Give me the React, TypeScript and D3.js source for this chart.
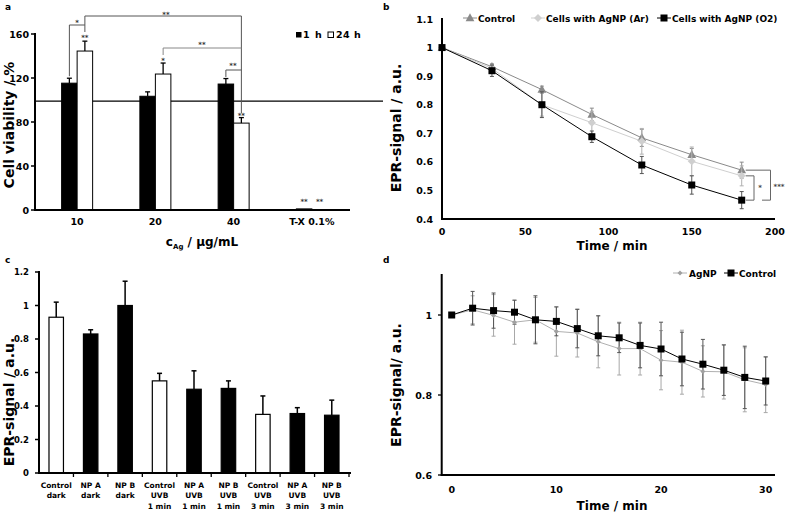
import React from "react";
import * as d3 from "d3";

const FONT = "'DejaVu Sans', Verdana, sans-serif";

// panel a: cell viability
const conc = ["10", "20", "40", "T-X 0.1%"];
const via1h = [115.3, 103.4, 114.5, 1.0];
const via1hErr = [4.5, 4.0, 5.0, 0];
const via24h = [144.5, 123.6, 79.0, 0.3];
const via24hErr = [9.0, 10.0, 5.0, 0];
const viaTicks = [0, 40, 80, 120, 160];
const viaRef = 99;

// panel b: EPR signal over 3 h
const timeB = [0, 30, 60, 90, 120, 150, 180];
const ctrlB = [1, 0.933, 0.853, 0.766, 0.684, 0.625, 0.571];
const ctrlBErr = [0, 0.01, 0.012, 0.022, 0.03, 0.022, 0.028];
const arB = [1, 0.927, 0.8, 0.737, 0.672, 0.602, 0.551];
const arBErr = [0, 0.012, 0.04, 0.04, 0.045, 0.05, 0.035];
const o2B = [1, 0.919, 0.8, 0.688, 0.589, 0.519, 0.466];
const o2BErr = [0, 0.02, 0.045, 0.02, 0.03, 0.032, 0.03];
const ticksBx = [0, 50, 100, 150, 200];
const ticksBy = [0.4, 0.5, 0.6, 0.7, 0.8, 0.9, 1, 1.1];

// panel c: EPR signal per treatment
const groupsC = [
  ["Control", "dark"], ["NP A", "dark"], ["NP B", "dark"],
  ["Control", "UVB", "1 min"], ["NP A", "UVB", "1 min"], ["NP B", "UVB", "1 min"],
  ["Control", "UVB", "3 min"], ["NP A", "UVB", "3 min"], ["NP B", "UVB", "3 min"],
];
const valC = [0.93, 0.83, 1.0, 0.55, 0.5, 0.505, 0.35, 0.355, 0.345];
const errC = [0.09, 0.025, 0.145, 0.045, 0.11, 0.045, 0.11, 0.035, 0.09];
const isControlC = [true, false, false, true, false, false, true, false, false];
const ticksCy = [0, 0.2, 0.4, 0.6, 0.8, 1, 1.2];

// panel d: EPR signal over 30 min
const timeD = [0, 2, 4, 6, 8, 10, 12, 14, 16, 18, 20, 22, 24, 26, 28, 30];
const ctrlD = [1.0, 1.017, 1.011, 1.007, 0.988, 0.984, 0.966, 0.948, 0.943, 0.924, 0.915, 0.89, 0.877, 0.862, 0.844, 0.835];
const ctrlDErr = [0, 0.042, 0.044, 0.03, 0.06, 0.036, 0.048, 0.05, 0.037, 0.056, 0.067, 0.067, 0.062, 0.063, 0.078, 0.06];
const agD = [1.0, 1.013, 0.999, 0.982, 0.988, 0.959, 0.955, 0.933, 0.916, 0.916, 0.887, 0.882, 0.859, 0.858, 0.838, 0.826];
const agDErr = [0, 0.035, 0.052, 0.055, 0.056, 0.062, 0.06, 0.065, 0.066, 0.066, 0.074, 0.08, 0.064, 0.068, 0.08, 0.07];
const ticksDx = [0, 10, 20, 30];
const ticksDy = [0.6, 0.8, 1];

const fmt = (v: number) => String(+v.toFixed(2));

function Star({ x, y, t, size = 7, fill = "#333" }: any) {
  return (
    <text x={x} y={y + size * 0.6} fontSize={size} fontWeight="bold" textAnchor="middle" fill={fill}>{t}</text>
  );
}

function ErrBar({ x, y0, y1, cap = 4, stroke = "#000", w = 1 }: any) {
  return (
    <g stroke={stroke} strokeWidth={w}>
      <line x1={x} x2={x} y1={y0} y2={y1} />
      <line x1={x - cap / 2} x2={x + cap / 2} y1={y1} y2={y1} />
    </g>
  );
}

function PanelA() {
  const x = d3.scaleBand().domain(conc).range([38, 351]);
  const y = d3.scaleLinear().domain([0, 160]).range([210, 34]);
  const bw = 15.5;
  const c1 = (i: number) => x(conc[i])! + x.bandwidth() / 2 - bw / 2;
  const c24 = (i: number) => x(conc[i])! + x.bandwidth() / 2 + bw / 2;
  return (
    <g>
      <text x={5} y={10} fontSize={9} fontWeight="bold">a</text>
      <line x1={35} x2={383} y1={y(viaRef)} y2={y(viaRef)} stroke="#000" strokeWidth={1.3} />
      {conc.map((c, i) => (
        <g key={c}>
          <rect x={c1(i) - bw / 2} y={y(via1h[i])} width={bw} height={y(0) - y(via1h[i])} fill="#000" stroke="#000" strokeWidth={1} />
          <rect x={c24(i) - bw / 2} y={y(via24h[i])} width={bw} height={y(0) - y(via24h[i])} fill="#fff" stroke="#000" strokeWidth={1} />
          {via1hErr[i] > 0 && <ErrBar x={c1(i)} y0={y(via1h[i])} y1={y(via1h[i] + via1hErr[i])} cap={5} w={1.3} />}
          {via24hErr[i] > 0 && <ErrBar x={c24(i)} y0={y(via24h[i])} y1={y(via24h[i] + via24hErr[i])} cap={5} w={1.3} />}
        </g>
      ))}
      {/* axes */}
      <line x1={35} x2={35} y1={y(160) - 1} y2={y(0)} stroke="#000" strokeWidth={2} />
      <line x1={34} x2={350} y1={y(0)} y2={y(0)} stroke="#000" strokeWidth={2} />
      {viaTicks.map((t) => (
        <g key={t}>
          <line x1={31} x2={35} y1={y(t)} y2={y(t)} stroke="#000" strokeWidth={1.5} />
          <text x={29} y={y(t) + 3.5} fontSize={9.5} fontWeight="bold" textAnchor="end">{t}</text>
        </g>
      ))}
      {conc.map((c) => (
        <text key={c} x={x(c)! + x.bandwidth() / 2} y={225} fontSize={9.5} fontWeight="bold" textAnchor="middle">{c}</text>
      ))}
      <text x={202} y={246} fontSize={12} fontWeight="bold" textAnchor="middle">
        c<tspan fontSize={7} dy={3}>Ag</tspan><tspan dy={-3}> / μg/mL</tspan>
      </text>
      <text transform="translate(13.5,125) rotate(-90)" fontSize={14} fontWeight="bold" textAnchor="middle">Cell viability / %</text>
      {/* legend */}
      <rect x={296} y={32} width={5.5} height={5.5} fill="#000" />
      <text x={303} y={38} fontSize={9.5} fontWeight="bold" letterSpacing={1}>1 h</text>
      <rect x={328} y={32} width={5.5} height={5.5} fill="#fff" stroke="#000" strokeWidth={1} />
      <text x={336} y={38} fontSize={9.5} fontWeight="bold" letterSpacing={0.5}>24 h</text>
      {/* significance */}
      <path d={`M${c1(0)},${y(via1h[0] + via1hErr[0]) - 2} V25 H${c24(0)}`} fill="none" stroke="#555" strokeWidth={1} />
      <path d={`M${c24(0)},32 V16 H${c24(2)} V113`} fill="none" stroke="#555" strokeWidth={1} />
      <path d={`M${c24(1)},55 V48 H${c24(2)}`} fill="none" stroke="#888" strokeWidth={1} />
      <path d={`M${c1(2)},77 V70 H${c24(2)}`} fill="none" stroke="#555" strokeWidth={1} />
      <Star x={(c1(0) + c24(0)) / 2} y={21} t="*" />
      <Star x={166} y={13} t="**" />
      <Star x={202} y={43} t="**" />
      <Star x={233} y={64} t="**" />
      <Star x={c24(0)} y={36} t="**" />
      <Star x={c24(1)} y={59} t="*" />
      <Star x={c24(2)} y={114} t="**" />
      <Star x={c1(3)} y={200} t="**" />
      <Star x={c24(3)} y={200} t="**" />
    </g>
  );
}

function tri(x: number, y: number, s: number) {
  return `M${x},${y - s * 0.6} L${x + s * 0.55},${y + s * 0.4} L${x - s * 0.55},${y + s * 0.4} Z`;
}
function dia(x: number, y: number, s: number) {
  return `M${x},${y - s / 2} L${x + s / 2},${y} L${x},${y + s / 2} L${x - s / 2},${y} Z`;
}

function PanelB() {
  const x = d3.scaleLinear().domain([0, 200]).range([442, 775]);
  const y = d3.scaleLinear().domain([0.4, 1.1]).range([219, 19]);
  const series = [
    { v: ctrlB, e: ctrlBErr, color: "#8a8a8a", err: "#8a8a8a", mark: "tri" },
    { v: arB, e: arBErr, color: "#cfcfcf", err: "#b0b0b0", mark: "dia" },
    { v: o2B, e: o2BErr, color: "#000", err: "#555", mark: "sq" },
  ];
  const line = (vals: number[]) => d3.line<number>().x((_, i) => x(timeB[i])).y((d) => y(d))(vals)!;
  const marker = (m: string, px: number, py: number, color: string) =>
    m === "tri" ? <path d={tri(px, py, 8)} fill={color} /> :
    m === "dia" ? <path d={dia(px, py, 8)} fill={color} /> :
    <rect x={px - 3.5} y={py - 3.5} width={7} height={7} fill={color} />;
  return (
    <g>
      <text x={383} y={10} fontSize={9} fontWeight="bold">b</text>
      {series.map((s, k) => (
        <g key={k}>
          {s.v.map((v, i) => s.e[i] > 0 && (
            <g key={i} stroke={s.err} strokeWidth={1}>
              <line x1={x(timeB[i])} x2={x(timeB[i])} y1={y(v - s.e[i])} y2={y(v + s.e[i])} />
              <line x1={x(timeB[i]) - 2} x2={x(timeB[i]) + 2} y1={y(v - s.e[i])} y2={y(v - s.e[i])} />
              <line x1={x(timeB[i]) - 2} x2={x(timeB[i]) + 2} y1={y(v + s.e[i])} y2={y(v + s.e[i])} />
            </g>
          ))}
          <path d={line(s.v)} fill="none" stroke={s.color} strokeWidth={1} />
          {s.v.map((v, i) => <g key={"m" + i}>{marker(s.mark, x(timeB[i]), y(v), s.color)}</g>)}
        </g>
      ))}
      <line x1={442} x2={442} y1={18} y2={220} stroke="#000" strokeWidth={2} />
      <line x1={441} x2={775} y1={219} y2={219} stroke="#000" strokeWidth={2} />
      {ticksBy.map((t) => (
        <text key={t} x={433} y={y(t) + 3.5} fontSize={9.5} fontWeight="bold" textAnchor="end">{fmt(t)}</text>
      ))}
      {ticksBx.map((t) => (
        <text key={t} x={x(t)} y={235} fontSize={9.5} fontWeight="bold" textAnchor="middle">{t}</text>
      ))}
      <text x={612} y={250} fontSize={12} fontWeight="bold" textAnchor="middle">Time / min</text>
      <text transform="translate(401,128) rotate(-90)" fontSize={14} fontWeight="bold" textAnchor="middle">EPR-signal / a.u.</text>
      {/* legend */}
      <line x1={463} x2={477} y1={18} y2={18} stroke="#8a8a8a" />
      {marker("tri", 470, 18, "#8a8a8a")}
      <text x={478} y={21.5} fontSize={9} fontWeight="bold">Control</text>
      <line x1={531} x2={545} y1={18} y2={18} stroke="#cfcfcf" />
      {marker("dia", 538, 18, "#cfcfcf")}
      <text x={546} y={21.5} fontSize={9} fontWeight="bold">Cells with AgNP (Ar)</text>
      <line x1={657} x2={671} y1={18} y2={18} stroke="#000" />
      {marker("sq", 664, 18, "#000")}
      <text x={672} y={21.5} fontSize={9} fontWeight="bold">Cells with AgNP (O2)</text>
      {/* significance */}
      <path d={`M${x(180) + 4},${y(arB[6])} H754 V${y(o2B[6])} H${x(180) + 4}`} fill="none" stroke="#666" strokeWidth={1} />
      <path d={`M${x(180) + 4},${y(ctrlB[6])} H770.5 V${y(o2B[6])} H762`} fill="none" stroke="#666" strokeWidth={1} />
      <Star x={760} y={186} t="*" fill="#444" />
      <Star x={779} y={185} t="***" fill="#444" />
    </g>
  );
}

function PanelC() {
  const x = d3.scaleBand().domain(groupsC.map((g) => g.join(" "))).range([39, 349]).paddingInner(0.58).paddingOuter(0.29);
  const y = d3.scaleLinear().domain([0, 1.2]).range([473, 272]);
  const step = x.step();
  return (
    <g>
      <text x={5} y={263} fontSize={9} fontWeight="bold">c</text>
      {groupsC.map((g, i) => {
        const k = g.join(" ");
        const cx = x(k)! + x.bandwidth() / 2;
        return (
          <g key={k}>
            <rect x={x(k)} y={y(valC[i])} width={x.bandwidth()} height={y(0) - y(valC[i])} fill={isControlC[i] ? "#fff" : "#000"} stroke="#000" strokeWidth={1.2} />
            <ErrBar x={cx} y0={y(valC[i])} y1={y(valC[i] + errC[i])} cap={5} w={1.5} />
            {g.map((l, j) => (
              <text key={j} x={cx} y={488 + j * 10.3} fontSize={7.5} fontWeight="bold" textAnchor="middle">{l}</text>
            ))}
          </g>
        );
      })}
      <line x1={39} x2={39} y1={271} y2={474} stroke="#000" strokeWidth={2} />
      <line x1={38} x2={351} y1={473} y2={473} stroke="#000" strokeWidth={2} />
      {groupsC.map((_, i) => (
        <line key={i} x1={39 + (i + 1) * step} x2={39 + (i + 1) * step} y1={473} y2={477} stroke="#000" strokeWidth={1.3} />
      ))}
      {ticksCy.map((t) => (
        <g key={t}>
          <line x1={35} x2={39} y1={y(t)} y2={y(t)} stroke="#000" strokeWidth={1.5} />
          <text x={29} y={y(t) + 3} fontSize={8.5} fontWeight="bold" textAnchor="end">{fmt(t)}</text>
        </g>
      ))}
      <text transform="translate(13.5,402) rotate(-90)" fontSize={14} fontWeight="bold" textAnchor="middle">EPR-signal / a.u.</text>
    </g>
  );
}

function PanelD() {
  const x = d3.scaleLinear().domain([0, 30]).range([451.7, 765.7]);
  const y = d3.scaleLinear().domain([0.6, 1.1]).range([475, 275]);
  const line = (vals: number[]) => d3.line<number>().x((_, i) => x(timeD[i])).y((d) => y(d))(vals)!;
  const errs = (vals: number[], e: number[], color: string) =>
    vals.map((v, i) => e[i] > 0 && (
      <g key={i} stroke={color} strokeWidth={1}>
        <line x1={x(timeD[i])} x2={x(timeD[i])} y1={y(v - e[i])} y2={y(v + e[i])} />
        <line x1={x(timeD[i]) - 2} x2={x(timeD[i]) + 2} y1={y(v - e[i])} y2={y(v - e[i])} />
        <line x1={x(timeD[i]) - 2} x2={x(timeD[i]) + 2} y1={y(v + e[i])} y2={y(v + e[i])} />
      </g>
    ));
  return (
    <g>
      <text x={383} y={263} fontSize={9} fontWeight="bold">d</text>
      {errs(agD, agDErr, "#a8a8a8")}
      {errs(ctrlD, ctrlDErr, "#555")}
      <path d={line(agD)} fill="none" stroke="#b0b0b0" strokeWidth={1} />
      {agD.map((v, i) => <path key={i} d={dia(x(timeD[i]), y(v), 5)} fill="#a0a0a0" />)}
      <path d={line(ctrlD)} fill="none" stroke="#000" strokeWidth={1} />
      {ctrlD.map((v, i) => <rect key={i} x={x(timeD[i]) - 3.5} y={y(v) - 3.5} width={7} height={7} fill="#000" />)}
      <line x1={441.7} x2={441.7} y1={274} y2={476} stroke="#000" strokeWidth={2} />
      <line x1={440.7} x2={775} y1={475} y2={475} stroke="#000" strokeWidth={2} />
      {ticksDy.map((t) => (
        <g key={t}>
          <line x1={438} x2={441.7} y1={y(t)} y2={y(t)} stroke="#000" strokeWidth={1.3} />
          <text x={432} y={y(t) + 3.5} fontSize={9.5} fontWeight="bold" textAnchor="end">{fmt(t)}</text>
        </g>
      ))}
      {ticksDx.map((t) => (
        <text key={t} x={x(t)} y={493} fontSize={9.5} fontWeight="bold" textAnchor="middle">{t}</text>
      ))}
      <text x={612} y={510} fontSize={12} fontWeight="bold" textAnchor="middle">Time / min</text>
      <text transform="translate(401,385) rotate(-90)" fontSize={14} fontWeight="bold" textAnchor="middle">EPR-signal/ a.u.</text>
      {/* legend */}
      <line x1={673} x2={687} y1={273} y2={273} stroke="#b0b0b0" />
      <path d={dia(680, 273, 5)} fill="#a0a0a0" />
      <text x={689} y={276.5} fontSize={9} fontWeight="bold">AgNP</text>
      <line x1={724} x2={738} y1={273} y2={273} stroke="#000" />
      <rect x={727.5} y={269.5} width={7} height={7} fill="#000" />
      <text x={739} y={276.5} fontSize={9} fontWeight="bold">Control</text>
    </g>
  );
}

export default function App() {
  return (
    <svg width={787} height={513} viewBox="0 0 787 513" fontFamily={FONT}
      style={{ position: "absolute", left: 0, top: 0, background: "#fff" }}>
      <rect width={787} height={513} fill="#fff" />
      <PanelA />
      <PanelB />
      <PanelC />
      <PanelD />
    </svg>
  );
}
